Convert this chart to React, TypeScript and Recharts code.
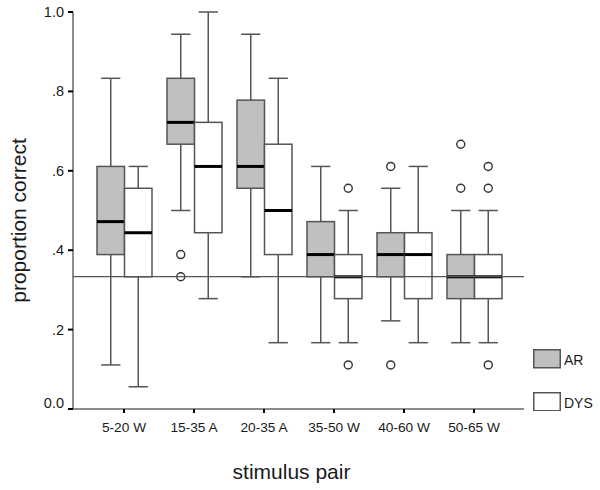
import React from 'react';
import { ComposedChart, Bar, XAxis, YAxis, ReferenceLine, Legend } from 'recharts';

// stimulus pairs on the x axis
const categories = ['5-20 W', '15-35 A', '20-35 A', '35-50 W', '40-60 W', '50-65 W'];

// AR group: whisker ends, quartiles, medians, outliers
const arMin = [0.111, 0.5, 0.333, 0.167, 0.222, 0.167];
const arQ1 = [0.389, 0.667, 0.556, 0.333, 0.333, 0.278];
const arMedian = [0.472, 0.722, 0.611, 0.389, 0.389, 0.333];
const arQ3 = [0.611, 0.833, 0.778, 0.472, 0.444, 0.389];
const arMax = [0.833, 0.944, 0.944, 0.611, 0.556, 0.5];
const arOutliers = [[], [0.389, 0.333], [], [], [0.611, 0.111], [0.667, 0.556]];

// DYS group
const dysMin = [0.056, 0.278, 0.167, 0.167, 0.167, 0.167];
const dysQ1 = [0.333, 0.444, 0.389, 0.278, 0.278, 0.278];
const dysMedian = [0.444, 0.611, 0.5, 0.333, 0.389, 0.333];
const dysQ3 = [0.556, 0.722, 0.667, 0.389, 0.444, 0.389];
const dysMax = [0.611, 1.0, 0.833, 0.5, 0.611, 0.5];
const dysOutliers = [[], [], [], [0.556, 0.111], [], [0.611, 0.556, 0.111]];

const yTicks = [0, 0.2, 0.4, 0.6, 0.8, 1];
const yTickLabels = ['0.0', '.2', '.4', '.6', '.8', '1.0'];
const chanceLevel = 1 / 3;
const seriesNames = ['AR', 'DYS'];

const AR_FILL = '#c0c0c0';
const DYS_FILL = '#ffffff';
const LINE = '#555';
const TEXT = '#1a1a1a';
const FONT = 'Arial, "Liberation Sans", Helvetica, sans-serif';

const data = categories.map((name, i) => ({
  name,
  ar: [arMin[i], arMax[i]],
  arStats: { min: arMin[i], q1: arQ1[i], med: arMedian[i], q3: arQ3[i], max: arMax[i], out: arOutliers[i] },
  dys: [dysMin[i], dysMax[i]],
  dysStats: { min: dysMin[i], q1: dysQ1[i], med: dysMedian[i], q3: dysQ3[i], max: dysMax[i], out: dysOutliers[i] },
}));

// box drawn over the range bar [min, max]; other values placed on the same linear scale
const makeBox = (key: 'ar' | 'dys', fill: string) => (props: any) => {
  const { x, y, width, height, payload } = props;
  const s = payload[key + 'Stats'];
  const top = Math.min(y, y + height);
  const bottom = Math.max(y, y + height);
  const toY = (v: number) => bottom - ((v - s.min) / (s.max - s.min)) * (bottom - top);
  const cx = x + width / 2;
  const cap = width * 0.35;
  return (
    <g>
      <line x1={cx} x2={cx} y1={toY(s.max)} y2={toY(s.q3)} stroke={LINE} strokeWidth={1.5} />
      <line x1={cx} x2={cx} y1={toY(s.q1)} y2={toY(s.min)} stroke={LINE} strokeWidth={1.5} />
      <line x1={cx - cap} x2={cx + cap} y1={toY(s.max)} y2={toY(s.max)} stroke={LINE} strokeWidth={1.5} />
      <line x1={cx - cap} x2={cx + cap} y1={toY(s.min)} y2={toY(s.min)} stroke={LINE} strokeWidth={1.5} />
      <rect x={x} y={toY(s.q3)} width={width} height={toY(s.q1) - toY(s.q3)} fill={fill} stroke={LINE} strokeWidth={1.5} />
      <line x1={x} x2={x + width} y1={toY(s.med)} y2={toY(s.med)} stroke="#000" strokeWidth={3} />
      {s.out.map((v: number, j: number) => (
        <circle key={j} cx={cx} cy={toY(v)} r={4} fill="#fff" stroke="#333" strokeWidth={1.4} />
      ))}
    </g>
  );
};

// y tick labels; the bottom one sits a little above its tick, as in SPSS output
const YTick = (props: any) => {
  const { x, y, payload } = props;
  const i = yTicks.indexOf(payload.value);
  return (
    <text x={x} y={i === 0 ? y - 6 : y} textAnchor="end" dominantBaseline="central" fontSize={14.5}
      fontFamily={FONT} fill={TEXT}>
      {yTickLabels[i]}
    </text>
  );
};

const LegendBoxes = () => (
  <svg width={67} height={62} style={{ display: 'block' }}>
    {seriesNames.map((n, i) => (
      <g key={n} transform={`translate(0, ${i * 43})`}>
        <rect x={0.75} y={0.75} width={26.5} height={18} fill={i === 0 ? AR_FILL : DYS_FILL} stroke={LINE} strokeWidth={1.5} />
        <text x={31} y={15.5} fontSize={14} fontFamily={FONT} fill={TEXT}>{n}</text>
      </g>
    ))}
  </svg>
);

const YLabel = (props: any) => {
  const vb = props.viewBox;
  const cx = vb.x + 18;
  const cy = vb.y + vb.height / 2 + 10;
  return (
    <text x={cx} y={cy} transform={`rotate(-90, ${cx}, ${cy})`} textAnchor="middle" dominantBaseline="central"
      fontSize={21} fontFamily={FONT} fill={TEXT}>proportion correct</text>
  );
};

const XLabel = (props: any) => {
  const vb = props.viewBox;
  return (
    <text x={vb.x + vb.width / 2 - 7} y={479} textAnchor="middle" fontSize={21} fontFamily={FONT} fill={TEXT}>
      stimulus pair
    </text>
  );
};

export default function App() {
  return (
    <div style={{ position: 'absolute', left: 0, top: 0, width: 600, height: 490, background: '#fff' }}>
      <ComposedChart width={600} height={490} data={data} margin={{ top: 12, right: 76, bottom: 51, left: 0 }}
        barGap={0} barSize={27.5}>
        <XAxis dataKey="name" padding={{ left: 16, right: 15 }} tick={{ fontSize: 13.7, fill: TEXT, fontFamily: FONT }}
          tickLine={{ stroke: '#000', strokeWidth: 2 }} tickSize={4} tickMargin={9}
          axisLine={{ stroke: '#666', strokeWidth: 1.5 }} height={30} label={<XLabel />} />
        <XAxis xAxisId="top" dataKey="name" orientation="top" height={0} tick={false} tickLine={false}
          axisLine={{ stroke: '#666', strokeWidth: 1.5 }} />
        <YAxis type="number" domain={[0, 1]} ticks={yTicks} width={73} interval={0} tick={<YTick />}
          tickLine={{ stroke: '#000', strokeWidth: 2 }} tickSize={5} tickMargin={4}
          axisLine={{ stroke: '#666', strokeWidth: 1.5 }} label={<YLabel />} />
        <YAxis yAxisId="right" orientation="right" type="number" domain={[0, 1]} width={0} tick={false}
          tickLine={false} axisLine={{ stroke: '#666', strokeWidth: 1.5 }} />
        <Bar dataKey="ar" name={seriesNames[0]} fill={AR_FILL} shape={makeBox('ar', AR_FILL)} isAnimationActive={false} />
        <Bar dataKey="dys" name={seriesNames[1]} fill={DYS_FILL} shape={makeBox('dys', DYS_FILL)} isAnimationActive={false} />
        <ReferenceLine y={chanceLevel} stroke={LINE} strokeWidth={1.2} />
        <Legend layout="vertical" align="center" verticalAlign="middle" content={() => <LegendBoxes />}
          wrapperStyle={{ left: 533, top: 349, width: 67, height: 62 }} />
      </ComposedChart>
    </div>
  );
}
